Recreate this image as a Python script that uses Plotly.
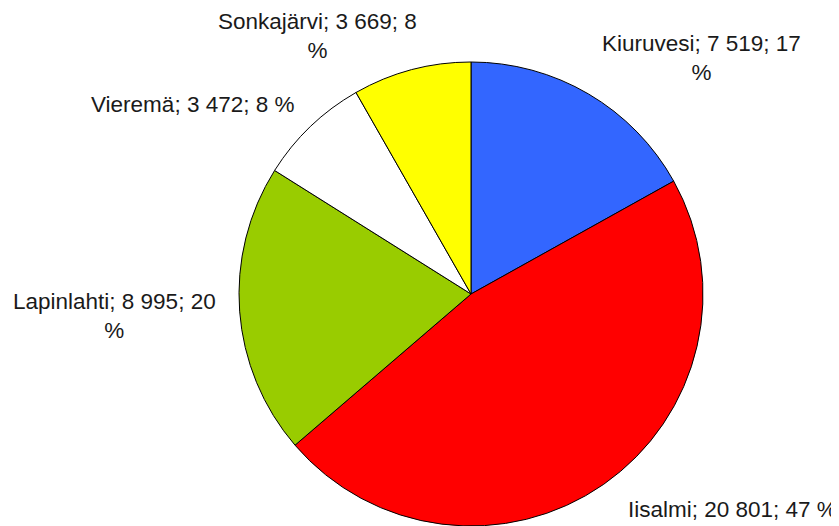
import plotly.graph_objects as go

W, H = 839, 526

kunnat = ['Kiuruvesi', 'Iisalmi', 'Lapinlahti', 'Vieremä', 'Sonkajärvi']
asukkaat = [7519, 20801, 8995, 3472, 3669]
osuudet = [17, 47, 20, 8, 8]
varit = ['#3366FF', '#FF0000', '#99CC00', '#FFFFFF', '#FFFF00']

# label texts as in the original (with the odd line breaks)
tekstit = [
    'Kiuruvesi; 7 519; 17<br>%',
    'Iisalmi; 20 801; 47 %',
    'Lapinlahti; 8 995; 20<br>%',
    'Vieremä; 3 472; 8 %',
    'Sonkajärvi; 3 669; 8<br>%',
]
# label anchor positions in pixels (x, y from top) and x anchor
paikat = [(693, 50, 'center'), (830, 501, 'right'), (106, 308, 'center'),
          (184, 96, 'center'), (309, 28, 'center')]

fig = go.Figure()
fig.add_trace(go.Pie(
    labels=kunnat,
    values=asukkaat,
    sort=False,
    direction='clockwise',
    rotation=0,
    marker=dict(colors=varit, line=dict(color='black', width=1)),
    textinfo='none',
    hoverinfo='label+value+percent',
    domain=dict(x=[231 / W, 695 / W], y=[8 / H, 1 - 54 / H]),
    showlegend=False,
))

for teksti, (px_, py_, ankkuri) in zip(tekstit, paikat):
    fig.add_annotation(
        x=px_ / W, y=1 - py_ / H, xref='paper', yref='paper',
        text=teksti, showarrow=False, align='center',
        xanchor=ankkuri, yanchor='middle', borderpad=0,
        font=dict(family='Liberation Sans, Arial, sans-serif', size=22.5, color='#1a1a1a'),
    )

fig.update_layout(
    width=W, height=H,
    margin=dict(l=0, r=0, t=0, b=0),
    paper_bgcolor='white',
    plot_bgcolor='white',
)

fig.write_html('out.html')
